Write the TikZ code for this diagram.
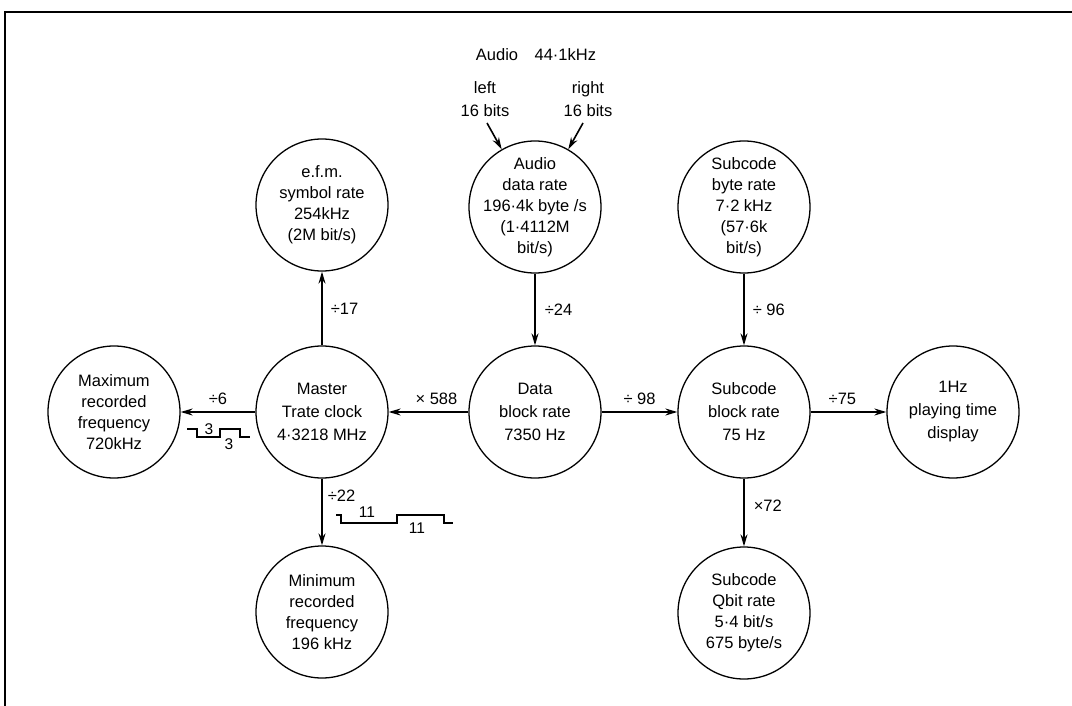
\documentclass[tikz,border=0pt]{standalone}
\usepackage{fontspec}
\setmainfont{Liberation Sans}
\usetikzlibrary{arrows.meta}
\tikzset{
  circ/.style={circle, draw, line width=1.3pt, minimum size=132pt, inner sep=0pt},
  txt/.style={align=center, inner sep=0pt, font=\fontsize{16.5}{21}\selectfont},
  txtw/.style={align=center, inner sep=0pt, font=\fontsize{16.5}{23}\selectfont},
  lbl/.style={inner sep=0pt, font=\fontsize{16.5}{20}\selectfont},
  small/.style={inner sep=0pt, font=\fontsize{15.5}{16}\selectfont},
  arr/.style={line width=1.6pt, -{Stealth[length=12pt,width=7pt]}},
  wave/.style={line width=1.2pt}
}
\begin{document}
\begin{tikzpicture}[x=1pt,y=-1pt]
\useasboundingbox (0,0) rectangle (1072,706);
% frame
\draw[line width=1.6pt] (5,706) -- (5,12) -- (1072,12);

% circles
\node[circ] (maxf) at (114,412) {};
\node[circ] (master) at (322,412) {};
\node[circ] (data) at (535,412) {};
\node[circ] (subblk) at (744,412) {};
\node[circ] (onehz) at (953,412) {};
\node[circ] (efm) at (322,205) {};
\node[circ] (audio) at (535,207) {};
\node[circ] (subbyte) at (744,207) {};
\node[circ] (minf) at (322,612) {};
\node[circ] (qbit) at (744,613) {};

% texts
\node[txt] (tmaxf) at (maxf) {Maximum\\recorded\\frequency\\720kHz};
\node[txtw] (tmaster) at (master) {Master\\Trate clock\\4·3218 MHz};
\node[txtw] (tdata) at (data) {Data\\block rate\\7350 Hz};
\node[txtw] (tsubblk) at (subblk) {Subcode\\block rate\\75 Hz};
\node[txtw] (tonehz) at (onehz) {1Hz\\playing time\\display};
\node[txt] (tefm) at (efm) {e.f.m.\\symbol rate\\254kHz\\(2M bit/s)};
\node[txt] (taudio) at (audio) {Audio\\data rate\\196·4k byte /s\\(1·4112M\\bit/s)};
\node[txt] (tsubbyte) at (subbyte) {Subcode\\byte rate\\7·2 kHz\\(57·6k\\bit/s)};
\node[txt] (tminf) at (minf) {Minimum\\recorded\\frequency\\196 kHz};
\node[txt] (tqbit) at (qbit) {Subcode\\Qbit rate\\5·4 bit/s\\675 byte/s};

% top labels
\node[lbl] (audiohz) at (536,55) {Audio\quad 44·1kHz};
\node[txtw] (left) at (485,99) {left\\16 bits};
\node[txtw] (right) at (588,99) {right\\16 bits};
\coordinate (lin) at (487,123);
\coordinate (rin) at (583,123);
\draw[arr] (lin) -- (audio.120);
\draw[arr] (rin) -- (audio.60);

% connectors
\draw[arr] (master) -- (efm.south) node[lbl, pos=0.5, right=8pt] {÷17};
\draw[arr] (audio) -- (data.north) node[lbl, pos=0.5, right=9pt] {÷24};
\draw[arr] (subbyte) -- (subblk.north) node[lbl, pos=0.5, right=8pt] {÷ 96};
\draw[arr] (data.west) -- (master.east) node[lbl, pos=0.4, above=7pt] {× 588};
\draw[arr] (master.west) -- (maxf.east) node[lbl, pos=0.5, above=7pt] {÷6};
\draw[arr] (data.east) -- (subblk.west) node[lbl, pos=0.5, above=7pt] {÷ 98};
\draw[arr] (subblk.east) -- (onehz.west) node[lbl, pos=0.42, above=7pt] {÷75};
\draw[arr] (master.south) -- (minf.north) node[lbl, pos=0.25, right=5pt] {÷22};
\draw[arr] (subblk.south) -- (qbit.north) node[lbl, pos=0.4, right=9pt] {×72};

% waveforms
\draw[wave] (187,429) -- (197,429) -- (197,437) -- (220,437) -- (220,429) -- (240,429) -- (240,437) -- (250,437);
\node[small] (w3a) at (209,429) {3};
\node[small] (w3b) at (229,444) {3};
\draw[wave] (336,515) -- (341,515) -- (341,523) -- (397,523) -- (397,515) -- (444,515) -- (444,523) -- (453,523);
\node[small] (w11a) at (367,512) {11};
\node[small] (w11b) at (417,528) {11};
\end{tikzpicture}
\end{document}
